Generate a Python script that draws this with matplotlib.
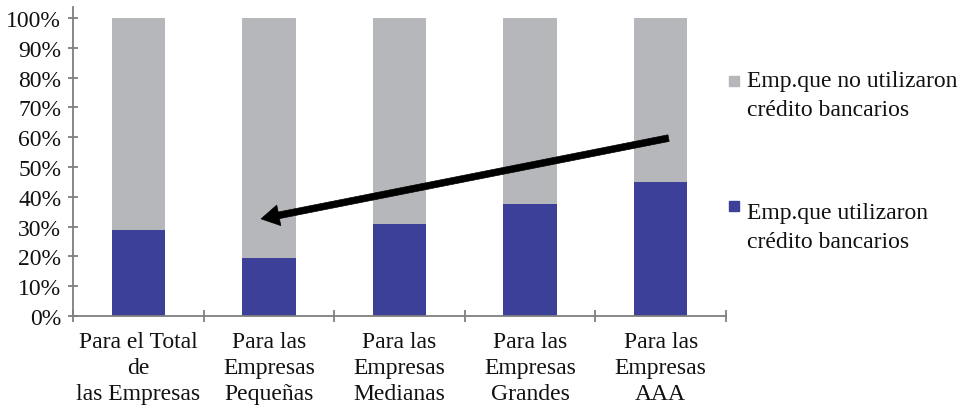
import matplotlib
matplotlib.use("Agg")
import matplotlib.pyplot as plt
from matplotlib.patches import Rectangle
import numpy as np

categories = ["Para el Total\nde\nlas Empresas", "Para las\nEmpresas\nPequeñas",
              "Para las\nEmpresas\nMedianas", "Para las\nEmpresas\nGrandes",
              "Para las\nEmpresas\nAAA"]
utilizaron = [0.29, 0.195, 0.31, 0.375, 0.45]
no_utilizaron = [1 - v for v in utilizaron]
series_labels = ["Emp.que no utilizaron\ncrédito bancarios",
                 "Emp.que utilizaron\ncrédito bancarios"]
yticks = [i / 10 for i in range(11)]
ytick_labels = [f"{i*10}%" for i in range(11)]

BLUE = "#3C4098"
GRAY = "#B6B7BB"
AXC = "#7F7F7F"

plt.rcParams['font.family'] = ['Liberation Serif', 'DejaVu Serif']

W, H = 969, 406
fig = plt.figure(figsize=(W / 100, H / 100), dpi=100)
ax = fig.add_axes([73 / W, (H - 317) / H, (726 - 73) / W, (317 - 8) / H])

x = np.arange(len(categories))
ax.bar(x, utilizaron, width=0.41, color=BLUE, zorder=2)
ax.bar(x, no_utilizaron, bottom=utilizaron, width=0.41, color=GRAY, zorder=2)

ax.set_xlim(-0.5, len(categories) - 0.5)
ax.set_ylim(0, 1.037)

for s in ("top", "right"):
    ax.spines[s].set_visible(False)
for s in ("left", "bottom"):
    ax.spines[s].set_color(AXC)
    ax.spines[s].set_linewidth(1.3)

ax.set_yticks(yticks)
ax.set_yticklabels(ytick_labels, fontsize=17, color="#111111")
ax.tick_params(axis="y", direction="inout", length=7, width=1.3, color=AXC, pad=5)

ax.set_xticks(x)
ax.set_xticklabels(categories, fontsize=17, color="#111111", linespacing=1.3)
ax.tick_params(axis="x", which="major", length=0, pad=11)
ax.set_xticks(np.arange(-0.5, len(categories)), minor=True)
ax.tick_params(axis="x", which="minor", direction="inout", length=8, width=1.3, color=AXC)

# arrow annotation
ax.annotate("", xy=(0.94, 0.326), xytext=(4.06, 0.597),
            arrowprops=dict(arrowstyle="simple,head_length=0.65,head_width=0.75,tail_width=0.24",
                            lw=0.5, fc="black", ec="black", mutation_scale=20,
                            shrinkA=0, shrinkB=0),
            zorder=5)

# legend (manual)
leg_colors = [GRAY, BLUE]
sq_tops = [77, 202]
text_tops = [71, 203]
for lab, col, top, ttop in zip(series_labels, leg_colors, sq_tops, text_tops):
    fig.patches.append(Rectangle((729 / W, (H - top - 10) / H), 10 / W, 10 / H,
                                 transform=fig.transFigure, color=col))
    fig.text(747 / W, (H - ttop) / H, lab, fontsize=17, color="#111111",
             ha="left", va="top", linespacing=1.5)

fig.savefig("out.png", dpi=100)
